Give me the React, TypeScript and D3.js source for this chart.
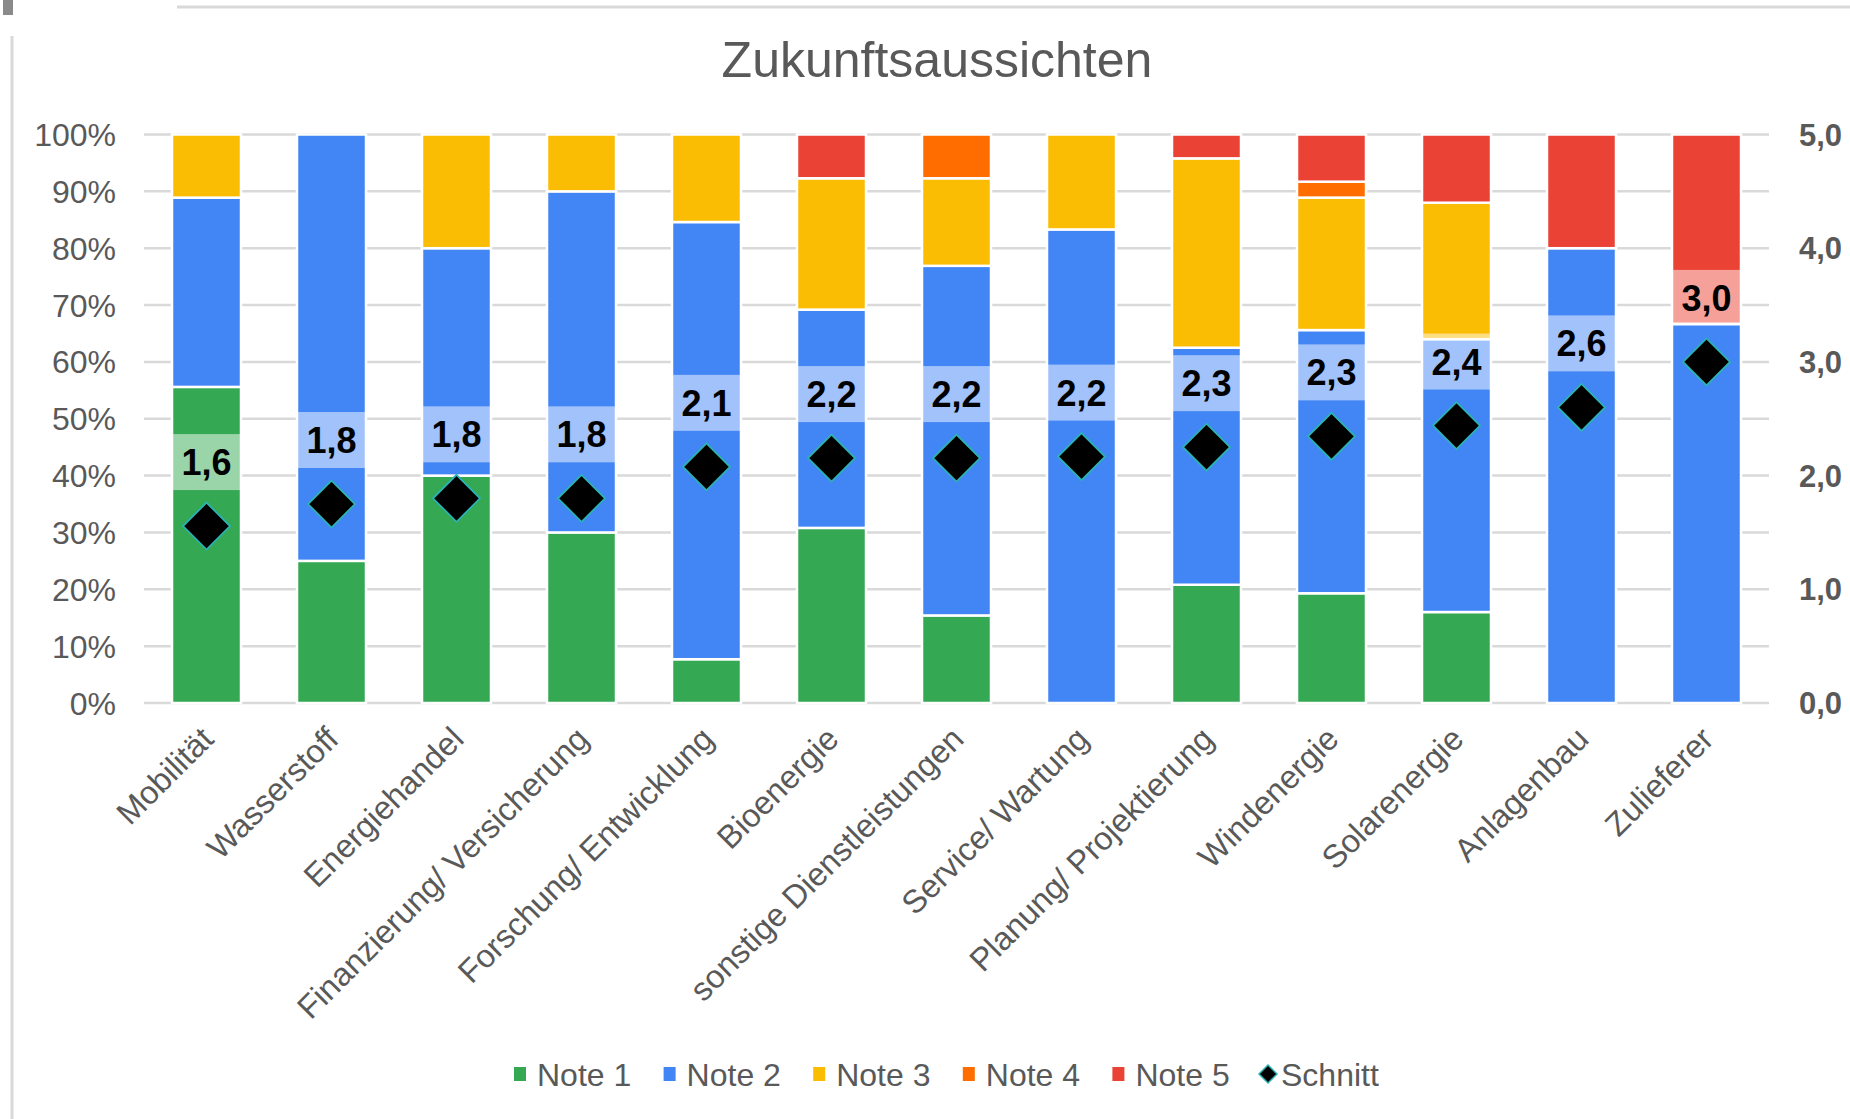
import * as d3 from "d3";

const categories = [
  "Mobilität",
  "Wasserstoff",
  "Energiehandel",
  "Finanzierung/ Versicherung",
  "Forschung/ Entwicklung",
  "Bioenergie",
  "sonstige Dienstleistungen",
  "Service/ Wartung",
  "Planung/ Projektierung",
  "Windenergie",
  "Solarenergie",
  "Anlagenbau",
  "Zulieferer",
];

// share of answers per grade, in percent
const note1 = [55.6, 25, 40, 30, 7.7, 30.8, 15.4, 0, 20.8, 19.3, 16, 0, 0];
const note2 = [33.3, 75, 40, 60, 76.9, 38.4, 61.5, 83.3, 41.7, 46.3, 48, 80, 66.7];
const note3 = [11.1, 0, 20, 10, 15.4, 23.1, 15.4, 16.7, 33.3, 23.3, 24, 0, 0];
const note4 = [0, 0, 0, 0, 0, 0, 7.7, 0, 0, 2.8, 0, 0, 0];
const note5 = [0, 0, 0, 0, 0, 7.7, 0, 0, 4.2, 8.3, 12, 20, 33.3];
// average grade (right axis)
const schnitt = [1.556, 1.75, 1.8, 1.8, 2.077, 2.154, 2.154, 2.167, 2.25, 2.345, 2.44, 2.6, 3.0];

const seriesNames = ["Note 1", "Note 2", "Note 3", "Note 4", "Note 5"];
const seriesColors = ["#34A853", "#4285F4", "#FBBC04", "#FF6D01", "#EA4335"];
const leftTicks = [0, 10, 20, 30, 40, 50, 60, 70, 80, 90, 100];
const rightTicks = [0, 1, 2, 3, 4, 5];

const W = 1850;
const H = 1119;
const font = "'Liberation Sans', Arial, sans-serif";
const grey = "#595959";

const de = d3.formatLocale({ decimal: ",", thousands: ".", grouping: [3], currency: ["", "€"] });
const fmt1 = de.format(".1f");

export default function App() {
  const left = 144, right = 1769, top = 134.5, bottom = 703;
  const x = d3.scaleBand(categories, [left, right]).paddingInner(0.448).paddingOuter(0.224);
  const y = d3.scaleLinear([0, 100], [bottom, top]);
  const y2 = d3.scaleLinear([0, 5], [bottom, top]);

  const rows = categories.map((c, i) => ({
    cat: c,
    "Note 1": note1[i],
    "Note 2": note2[i],
    "Note 3": note3[i],
    "Note 4": note4[i],
    "Note 5": note5[i],
  }));
  const stacked = d3.stack<any>().keys(seriesNames)(rows);

  const bw = x.bandwidth();
  const dia = 23.5;
  const diamond = (cx: number, cy: number, r: number) =>
    `M${cx},${cy - r}L${cx + r},${cy}L${cx},${cy + r}L${cx - r},${cy}Z`;

  const legendX = d3.scalePoint([...seriesNames, "Schnitt"], [514, 1262]);

  return (
    <svg width={W} height={H} style={{ position: "absolute", left: 0, top: 0, background: "#fff" }} fontFamily={font}>
      <rect x={0} y={0} width={W} height={H} fill="#fff" />
      {/* screenshot frame bits */}
      <rect x={3} y={0} width={10} height={15} fill="#8a8a8a" />
      <line x1={177} x2={W} y1={7} y2={7} stroke="#d9d9d9" strokeWidth={3} />
      <line x1={12} x2={12} y1={36} y2={H} stroke="#d9d9d9" strokeWidth={3} />

      <text x={937} y={77} textAnchor="middle" fontSize={50} fill={grey}>Zukunftsaussichten</text>

      {/* gridlines */}
      {leftTicks.map((t) => (
        <line key={t} x1={left} x2={right} y1={y(t)} y2={y(t)} stroke="#d9d9d9" strokeWidth={2.5} />
      ))}
      {leftTicks.map((t) => (
        <text key={"l" + t} x={116} y={y(t)} dy="0.36em" textAnchor="end" fontSize={32} fill={grey}>{t}%</text>
      ))}
      {rightTicks.map((t) => (
        <text key={"r" + t} x={1799} y={y2(t)} dy="0.36em" fontSize={31} fontWeight="bold" fill={grey}>{fmt1(t)}</text>
      ))}

      {/* stacked bars */}
      {stacked.map((s, si) => (
        <g key={s.key} fill={seriesColors[si]}>
          {s.map((d, i) =>
            d[1] - d[0] > 0 ? (
              <rect key={i} x={x(categories[i])} y={y(d[1])} width={bw} height={y(d[0]) - y(d[1])} stroke="#fff" strokeWidth={2.5} />
            ) : null
          )}
        </g>
      ))}

      {/* data labels of Schnitt */}
      {schnitt.map((v, i) => {
        const cy = y2(v) - 64;
        return (
          <g key={"lab" + i}>
            <rect x={x(categories[i])} y={cy - 28} width={bw} height={56} fill="#fff" fillOpacity={0.5} />
            <text x={x(categories[i])! + bw / 2} y={cy} dy="0.36em" textAnchor="middle" fontSize={36} fontWeight="bold" fill="#000">{fmt1(v)}</text>
          </g>
        );
      })}

      {/* Schnitt markers */}
      {schnitt.map((v, i) => (
        <path key={"d" + i} d={diamond(x(categories[i])! + bw / 2, y2(v), dia)} fill="#000" stroke="#2bb3b3" strokeWidth={1.8} />
      ))}

      {/* x labels */}
      {categories.map((c) => (
        <text key={c} transform={`translate(${x(c)! + bw / 2 + 9},${bottom + 38}) rotate(-45)`} textAnchor="end" fontSize={32.5} fill={grey}>{c}</text>
      ))}

      {/* legend */}
      {seriesNames.map((n, i) => (
        <g key={n} transform={`translate(${legendX(n)},1074)`}>
          <rect x={0} y={-7} width={12} height={14} fill={seriesColors[i]} />
          <text x={23} dy="0.36em" fontSize={32} fill={grey}>{n}</text>
        </g>
      ))}
      <g transform={`translate(${legendX("Schnitt")},1074)`}>
        <path d={diamond(6, 0, 9)} fill="#000" stroke="#2bb3b3" strokeWidth={1.5} />
        <text x={19} dy="0.36em" fontSize={32} fill={grey}>Schnitt</text>
      </g>
    </svg>
  );
}
